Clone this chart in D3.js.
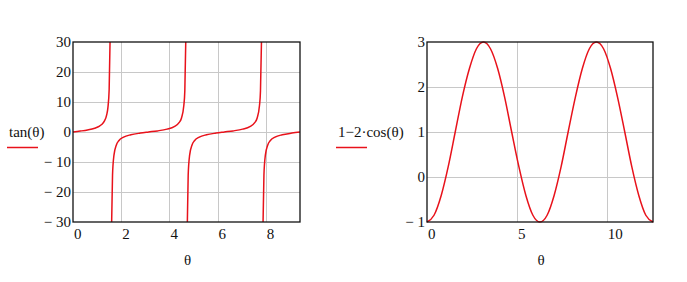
<!DOCTYPE html>
<html>
<head>
<meta charset="utf-8">
<script src="https://cdn.jsdelivr.net/npm/d3@7"></script>
<style>
	body { margin: 0; background: #fff; }
	svg text { font-family: "Liberation Serif", "Times New Roman", serif; fill: #111; }
</style>
</head>
<body>
<div id="chart"></div>
<script>
// tan(θ), one array per branch (clipped at ±30)
var tanTheta1 = [0, 0.3, 0.6, 0.9, 1.1, 1.2, 1.3, 1.4, 1.45, 1.5, 1.537];
var tanValue1 = [0, 0.31, 0.68, 1.26, 1.96, 2.57, 3.6, 5.8, 8.2, 14.1, 30];
var tanTheta2 = [1.604, 1.64, 1.7, 1.8, 1.9, 2.1, 2.4, 2.8, 3.14, 3.5, 3.9, 4.2, 4.4, 4.5, 4.6, 4.64, 4.679];
var tanValue2 = [-30, -14.4, -7.7, -4.3, -2.9, -1.71, -0.92, -0.36, 0, 0.37, 0.95, 1.76, 3.1, 4.6, 8.9, 13.7, 30];
var tanTheta3 = [4.745, 4.78, 4.84, 4.94, 5.04, 5.24, 5.54, 5.94, 6.28, 6.64, 7.04, 7.34, 7.54, 7.64, 7.74, 7.78, 7.821];
var tanValue3 = [-30, -14.4, -7.7, -4.3, -2.9, -1.71, -0.92, -0.36, 0, 0.37, 0.95, 1.76, 3.1, 4.6, 8.9, 13.7, 30];
var tanTheta4 = [7.887, 7.923, 7.983, 8.083, 8.183, 8.383, 8.683, 9.083, 9.42];
var tanValue4 = [-30, -14.4, -7.7, -4.3, -2.9, -1.71, -0.92, -0.36, 0];

// 1-2·cos(θ)
var cosTheta = [0, 0.39, 0.79, 1.18, 1.57, 1.96, 2.36, 2.75, 3.14, 3.53, 3.93, 4.32, 4.71, 5.11, 5.50, 5.89,
	6.28, 6.68, 7.07, 7.46, 7.85, 8.25, 8.64, 9.03, 9.42, 9.82, 10.21, 10.60, 11.00, 11.39, 11.78, 12.17, 12.57];
var cosValue = [-1, -0.85, -0.41, 0.23, 1, 1.77, 2.41, 2.85, 3, 2.85, 2.41, 1.77, 1, 0.23, -0.41, -0.85,
	-1, -0.85, -0.41, 0.23, 1, 1.77, 2.41, 2.85, 3, 2.85, 2.41, 1.77, 1, 0.23, -0.41, -0.85, -1];

// tick labels
var tanXTicks = [0, 2, 4, 6, 8];
var tanYTicks = [-30, -20, -10, 0, 10, 20, 30];
var cosXTicks = [0, 5, 10];
var cosYTicks = [-1, 0, 1, 2, 3];

var svg = d3.select("#chart").append("svg")
	.attr("width", 687)
	.attr("height", 282);

function fmt(v) {
	return v < 0 ? "\u2212 " + Math.abs(v) : String(v);
}

function plot(opt) {
	var x = d3.scaleLinear().domain(opt.xDomain).range([opt.left, opt.right]),
		y = d3.scaleLinear().domain(opt.yDomain).range([opt.bottom, opt.top]);
	var g = svg.append("g");

	// grid
	g.selectAll(".gx").data(opt.xTicks.slice(1)).enter().append("line")
		.attr("x1", function (d) { return Math.round(x(d)) + 0.5; })
		.attr("x2", function (d) { return Math.round(x(d)) + 0.5; })
		.attr("y1", opt.top).attr("y2", opt.bottom)
		.attr("stroke", "#c8c8c8").attr("stroke-width", 1);
	g.selectAll(".gy").data(opt.yTicks.slice(1, -1)).enter().append("line")
		.attr("y1", function (d) { return Math.round(y(d)) + 0.5; })
		.attr("y2", function (d) { return Math.round(y(d)) + 0.5; })
		.attr("x1", opt.left).attr("x2", opt.right)
		.attr("stroke", "#c8c8c8").attr("stroke-width", 1);

	// curves
	var line = d3.line()
		.x(function (d) { return x(d[0]); })
		.y(function (d) { return y(d[1]); })
		.curve(d3.curveMonotoneX);
	opt.series.forEach(function (s) {
		g.append("path")
			.attr("d", line(d3.zip(s[0], s[1])))
			.attr("fill", "none")
			.attr("stroke", "#e8121b")
			.attr("stroke-width", 1.5);
	});

	// frame
	g.append("rect")
		.attr("x", opt.left).attr("y", opt.top)
		.attr("width", opt.right - opt.left).attr("height", opt.bottom - opt.top)
		.attr("fill", "none").attr("stroke", "#111").attr("stroke-width", 1.3);

	// tick labels
	g.selectAll(".tx").data(opt.xTicks).enter().append("text")
		.attr("x", function (d) { return x(d) + 1; })
		.attr("y", opt.bottom + 17)
		.attr("font-size", 15)
		.text(function (d) { return d; });
	g.selectAll(".ty").data(opt.yTicks).enter().append("text")
		.attr("x", opt.left - 2)
		.attr("y", function (d) { return y(d) + 5; })
		.attr("text-anchor", "end")
		.attr("font-size", 15)
		.text(fmt);

	// axis titles
	g.append("text")
		.attr("x", (opt.left + opt.right) / 2 + 1)
		.attr("y", opt.bottom + 43)
		.attr("text-anchor", "middle")
		.attr("font-size", 15)
		.text("\u03b8");
	g.append("text")
		.attr("x", opt.labelX)
		.attr("y", 137)
		.attr("font-size", 15)
		.text(opt.label);
	g.append("line")
		.attr("x1", opt.labelX - 2).attr("x2", opt.labelX + 29)
		.attr("y1", 147.5).attr("y2", 147.5)
		.attr("stroke", "#e8121b").attr("stroke-width", 1.5);
}

plot({
	left: 73, right: 300, top: 42, bottom: 222,
	xDomain: [0, 9.42], yDomain: [-30, 30],
	xTicks: tanXTicks, yTicks: tanYTicks,
	series: [[tanTheta1, tanValue1], [tanTheta2, tanValue2], [tanTheta3, tanValue3], [tanTheta4, tanValue4]],
	label: "tan(\u03b8)", labelX: 9
});

plot({
	left: 427, right: 653, top: 42, bottom: 222,
	xDomain: [0, 12.57], yDomain: [-1, 3],
	xTicks: cosXTicks, yTicks: cosYTicks,
	series: [[cosTheta, cosValue]],
	label: "1\u22122\u00b7cos(\u03b8)", labelX: 338
});
</script>
</body>
</html>
